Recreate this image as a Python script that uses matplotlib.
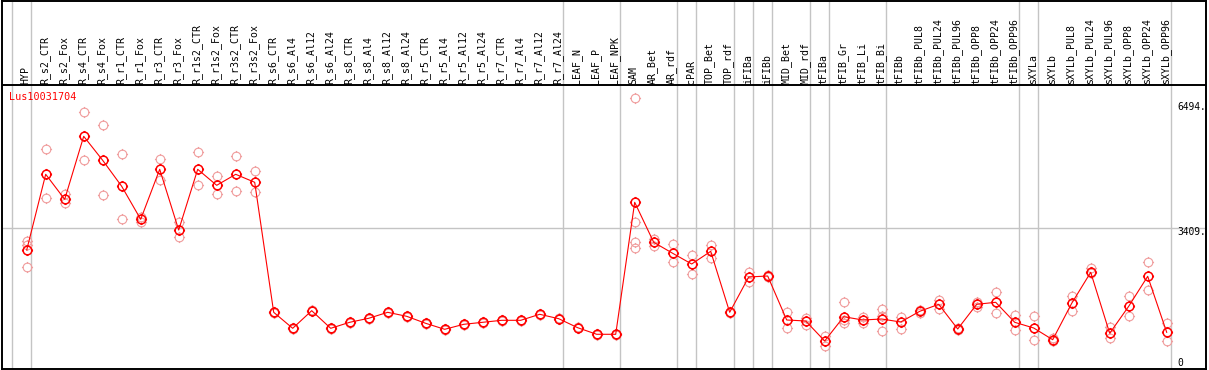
import matplotlib.pyplot as plt
from matplotlib.path import Path

gene = 'Lus10031704'

labels = ['HYP', 'R_s2_CTR', 'R_s2_Fox', 'R_s4_CTR', 'R_s4_Fox', 'R_r1_CTR', 'R_r1_Fox',
          'R_r3_CTR', 'R_r3_Fox', 'R_r1s2_CTR', 'R_r1s2_Fox', 'R_r3s2_CTR', 'R_r3s2_Fox',
          'R_s6_CTR', 'R_s6_Al4', 'R_s6_Al12', 'R_s6_Al24', 'R_s8_CTR', 'R_s8_Al4',
          'R_s8_Al12', 'R_s8_Al24', 'R_r5_CTR', 'R_r5_Al4', 'R_r5_Al12', 'R_r5_Al24',
          'R_r7_CTR', 'R_r7_Al4', 'R_r7_Al12', 'R_r7_Al24', 'LEAF_N', 'LEAF_P', 'LEAF_NPK',
          'SAM', 'AR_Bet', 'AR_rdf', 'cPAR', 'TOP_Bet', 'TOP_rdf', 'iFIBa', 'iFIBb',
          'MID_Bet', 'MID_rdf', 'tFIBa', 'tFIB_Gr', 'tFIB_Li', 'tFIB_Bi', 'tFIBb',
          'tFIBb_PUL8', 'tFIBb_PUL24', 'tFIBb_PUL96', 'tFIBb_OPP8', 'tFIBb_OPP24',
          'tFIBb_OPP96', 'sXYLa', 'sXYLb', 'sXYLb_PUL8', 'sXYLb_PUL24', 'sXYLb_PUL96',
          'sXYLb_OPP8', 'sXYLb_OPP24', 'sXYLb_OPP96']

means = [2853, 4765, 4133, 5724, 5118, 4462, 3628, 4891, 3358, 4891, 4487, 4765, 4563,
         1280, 876, 1321, 876, 1028, 1129, 1280, 1179, 1002, 851, 977, 1028,
         1078, 1078, 1230, 1119, 891, 725, 725,
         4058, 3048, 2770, 2500, 2820, 1280, 2172, 2197, 1086, 1061, 556, 1169, 1086,
         1111, 1035, 1305, 1482, 859, 1482, 1533, 1028, 884, 588, 1507, 2290, 750,
         1432, 2189, 775]

reps = [[3081, 2980, 2416], [5396, 4159], [4260, 4048], [6330, 5118], [6002, 4234],
        [5270, 3628], [3679, 3568], [5143, 4621], [3553, 3174], [5320, 4487],
        [4714, 4260], [5219, 4335], [4840, 4310],
        [1290, 1270], [885, 868], [1330, 1310], [885, 868], [1035, 1020], [1138, 1120],
        [1290, 1270], [1188, 1170], [1010, 995], [860, 842], [985, 970], [1035, 1020],
        [1085, 1070], [1085, 1070], [1238, 1222], [1128, 1110], [900, 882], [733, 717],
        [733, 717],
        [6684, 3568, 3048, 2911], [3131, 2962], [2997, 2543], [2727, 2240], [2980, 2644],
        [1290, 1270], [2298, 2045], [2222, 2172], [1280, 876], [1129, 960], [682, 429],
        [1533, 1002, 1086], [1002, 1162], [1364, 816, 1187], [1169, 866], [1338, 1275],
        [1591, 1371], [884, 833], [1533, 1422], [1785, 1255], [1204, 826], [1179, 588],
        [624, 556], [1684, 1321], [2406, 2265], [917, 624], [1684, 1179], [2543, 1836],
        [1002, 548]]

group_starts = [0, 1, 29, 32, 35, 36, 38, 39, 40, 42, 43, 46, 53, 54, 61]
scale_ticks = [6494, 3409, 0]


# pixel -> data helpers for layout only
def px_x(p):
    return (p - 26.7) / 19.0


def px_y(p):
    return (363.0 - p) / 0.0396


# open circle with four short ticks
ring = Path.unit_circle()
tk = 1.28
tick_paths = [Path([[0, 1], [0, tk]], [Path.MOVETO, Path.LINETO]),
              Path([[0, -1], [0, -tk]], [Path.MOVETO, Path.LINETO]),
              Path([[1, 0], [tk, 0]], [Path.MOVETO, Path.LINETO]),
              Path([[-1, 0], [-tk, 0]], [Path.MOVETO, Path.LINETO])]
mk = Path.make_compound_path(ring, *tick_paths)

plt.rcParams['font.family'] = 'DejaVu Sans Mono'

fig = plt.figure(figsize=(12.09, 3.70), dpi=100)
ax = fig.add_axes([1.7 / 1209, 1.3 / 370, (1205.5 - 1.7) / 1209, (369.5 - 1.3) / 370])
ax.set_xlim(px_x(1.7), px_x(1205.5))
ax.set_ylim(px_y(368.7), px_y(0.5))
ax.set_xticks([])
ax.set_yticks([])
for s in ax.spines.values():
    s.set_linewidth(1.4)
    s.set_color('black')

# separators and reference line
for g in group_starts:
    ax.axvline(g - 15 / 19, color='#c4c4c4', lw=1.0, zorder=0)
ax.axhline(scale_ticks[1], color='#c4c4c4', lw=1.0, zorder=0)
ax.axhline(px_y(85), color='black', lw=1.4, zorder=1)

# column labels
for i, lab in enumerate(labels):
    ax.text(i - 0.05, px_y(83.5), lab, rotation=90, ha='center', va='bottom',
            fontsize=7.1, color='black')

# replicates
for i, r in enumerate(reps):
    ax.plot([i] * len(r), r, linestyle='none', marker=mk, ms=8, mfc='none',
            mec='#f09c9c', mew=0.8, zorder=2)

# means
ax.plot(range(len(means)), means, color='red', lw=0.8, marker=mk, ms=8,
        mfc='none', mec='red', mew=1.1, zorder=3)

ax.text(px_x(9.3), px_y(96.7), gene, color='red', fontsize=7.3, ha='left', va='center')

offs = [-1, -4, 0]
for t, o in zip(scale_ticks, offs):
    ax.annotate(f'{t}.' if t else '0', (px_x(1177.5), t), xytext=(0, o),
                textcoords='offset pixels', fontsize=6.9, ha='left', va='center')

fig.savefig('out.png', dpi=100)
